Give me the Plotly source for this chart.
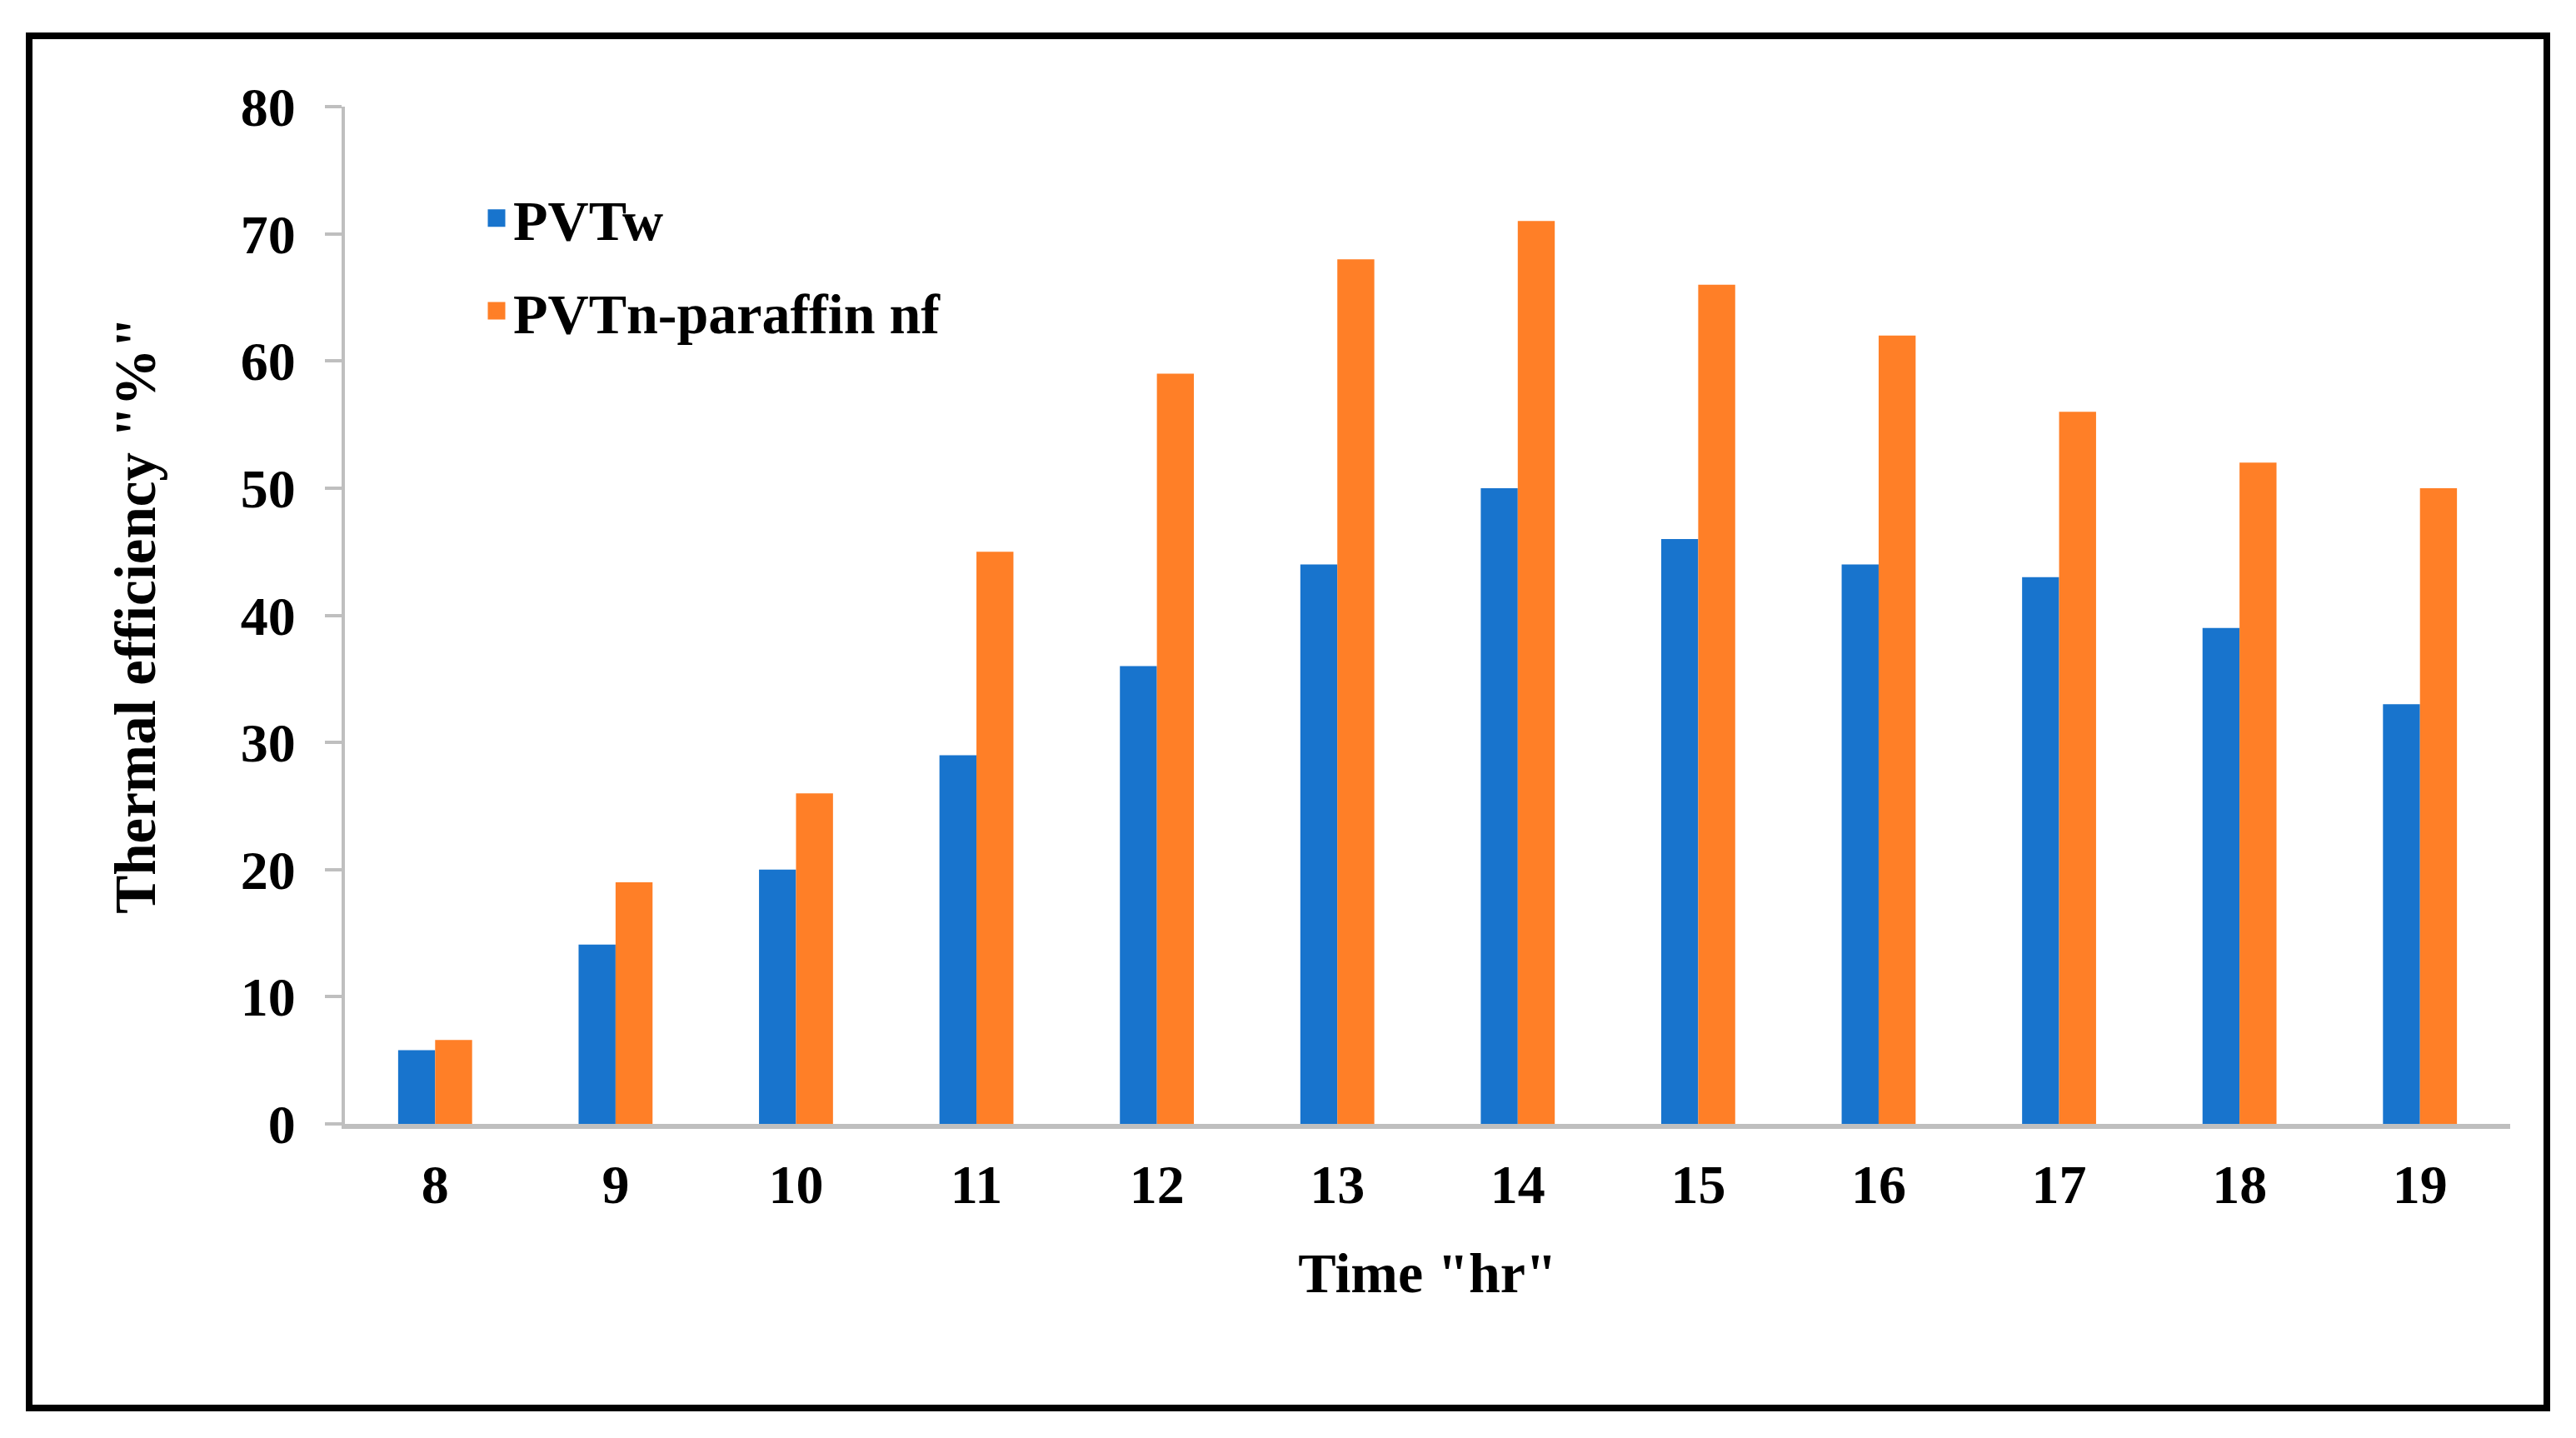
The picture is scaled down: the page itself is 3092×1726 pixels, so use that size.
import plotly.graph_objects as go

hours = ["8", "9", "10", "11", "12", "13", "14", "15", "16", "17", "18", "19"]
pvt_w = [5.8, 14.1, 20, 29, 36, 44, 50, 46, 44, 43, 39, 33]
pvt_paraffin = [6.6, 19, 26, 45, 59, 68, 71, 66, 62, 56, 52, 50]
series_names = ["PVTw", "PVTn-paraffin nf"]
y_ticks = [0, 10, 20, 30, 40, 50, 60, 70, 80]

BLUE = "#1874CD"
ORANGE = "#FF7F27"
GRAY = "#BFBFBF"
FONT = "Liberation Serif"

OFF = 8  # page body margin
W, H = 3092 - 2 * OFF, 1726 - 2 * OFF
# plot area in window pixels
PX0, PX1, PY0, PY1 = 414, 3013, 128, 1349
L, T = PX0 - OFF, PY0 - OFF
R, B = W - (PX1 - OFF), H - (PY1 - OFF)

fig = go.Figure()
for name, vals, col in [(series_names[0], pvt_w, BLUE), (series_names[1], pvt_paraffin, ORANGE)]:
    fig.add_trace(go.Bar(x=hours, y=vals, name=name, marker=dict(color=col, line=dict(width=0)),
                         showlegend=False))
# legend entries (square swatches)
for i, (name, col) in enumerate([(series_names[0], BLUE), (series_names[1], ORANGE)]):
    fig.add_trace(go.Scatter(x=[None], y=[None], mode="markers", name=name, legendgroup=f"g{i}",
                             marker=dict(symbol="square", size=16, color=col,
                                         line=dict(color=col, width=5))))

pw = PX1 - PX0
ph = PY1 - PY0
def px_x(x):
    return (x - PX0) / pw
def px_y(y):
    return (PY1 - y) / ph

fig.update_layout(
    width=W, height=H,
    margin=dict(l=L, r=R, t=T, b=B),
    paper_bgcolor="white", plot_bgcolor="white",
    barmode="group", bargap=0.59, bargroupgap=0,
    font=dict(family=FONT, size=66, color="black", weight="bold"),
    legend=dict(x=px_x(576), y=px_y(211), xanchor="left", yanchor="top",
                font=dict(family=FONT, size=68, color="black", weight="bold"),
                bgcolor="rgba(0,0,0,0)", tracegroupgap=20, itemclick=False),
    xaxis=dict(
        type="category", showgrid=False, showline=True, linecolor=GRAY, linewidth=6,
        ticks="", tickfont=dict(family=FONT, size=66, color="black", weight="bold"),
        ticklabelstandoff=10,
        title=dict(text='Time "hr"', font=dict(family=FONT, size=68, color="black", weight="bold"),
                   standoff=48),
        zeroline=False,
    ),
    yaxis=dict(
        range=[0, 80], tickvals=y_ticks, showgrid=False, showline=True, linecolor=GRAY, linewidth=4,
        ticks="outside", ticklen=20, tickwidth=4, tickcolor=GRAY,
        tickfont=dict(family=FONT, size=66, color="black", weight="bold"),
        ticklabelstandoff=22,
        title=dict(text='Thermal efficiency "%"', font=dict(family=FONT, size=69, color="black", weight="bold"),
                   standoff=81),
        zeroline=False,
    ),
    shapes=[dict(type="rect", xref="paper", yref="paper",
                 x0=px_x(35), x1=px_x(3057), y0=px_y(1690), y1=px_y(43),
                 line=dict(color="black", width=8), fillcolor="rgba(0,0,0,0)", layer="below")],
)

fig.write_html("out.html")
